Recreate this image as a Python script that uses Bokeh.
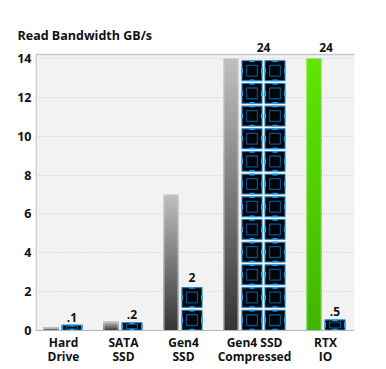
import numpy as np
from bokeh.plotting import figure
from bokeh.models import ColumnDataSource, FixedTicker, LabelSet, Range1d
from bokeh.core.properties import value
from bokeh.embed import file_html
from bokeh.resources import INLINE

# ---------------- data ----------------
categories = ["Hard\nDrive", "SATA\nSSD", "Gen4\nSSD", "Gen4 SSD\nCompressed", "RTX\nIO"]
bar_values = [0.15, 0.45, 7.0, 14.0, 14.0]      # left bars (drawn height, clipped at 14)
bar_styles = ["gray", "gray", "gray", "gray", "green"]
chip_values = [0.30, 0.42, 2.34, 14.0, 0.57]    # chip stacks (drawn height)
chip_columns = [1, 1, 1, 2, 1]
chip_labels = [".1", ".2", "2", "24", ".5"]
bar_labels = ["", "", "", "", "24"]
y_ticks = [0, 2, 4, 6, 8, 10, 12, 14]
title_text = "Read Bandwidth GB/s"

# ---------------- layout constants ----------------
X_END = 319.0
Y_END = 14.2          # top of the shaded plot area
PX_PER_UNIT = 276.0 / Y_END
FRAME_H = 288
Y_TOP = FRAME_H / PX_PER_UNIT   # room above the shaded area for the value labels
PAD = 8.0
BAR_W = 15.0
CHIP_OFF = 18.0
CHIP_W = 21.0
CHIP_STEP = 23.0
GROUP_GAP = 21.0
ROW_PITCH = 14.0 / 12.0
ROW_GAP = 0.1
FONT = "Open Sans"

p = figure(frame_width=319, frame_height=FRAME_H, output_backend="svg", toolbar_location=None,
           x_range=Range1d(0, X_END), y_range=Range1d(0, Y_TOP),
           min_border_left=35, min_border_right=16, min_border_top=42, min_border_bottom=38)
p.background_fill_color = "white"
p.border_fill_color = "white"
p.outline_line_color = None

# shaded plot area
p.quad(left=[0], right=[X_END], bottom=[0], top=[Y_END], fill_color="#f2f2f2",
       line_color=None, level="image")
p.segment(x0=[0], x1=[X_END], y0=[Y_END], y1=[Y_END], line_color="#c8c8c8", line_width=1.3)
p.segment(x0=[0.6], x1=[0.6], y0=[0], y1=[Y_END], line_color="#c4c4c4", line_width=1.3)

def lerp(c1, c2, t):
    return "#%02x%02x%02x" % tuple(int(round(a + (b - a) * t)) for a, b in zip(c1, c2))

grad = {"gray": ((52, 52, 52), (192, 192, 192)), "green": ((66, 180, 0), (94, 230, 0))}

# positions computed from the group layout
bar_x0, chip_x0, centers = [], [], []
x = PAD
for n in chip_columns:
    bar_x0.append(x)
    chip_x0.append(x + CHIP_OFF)
    end = x + CHIP_OFF + n * CHIP_STEP - (CHIP_STEP - CHIP_W)
    centers.append((x + end) / 2)
    x = end + GROUP_GAP

# gradient left bars
N = 40
ql, qr, qb, qt, qc = [], [], [], [], []
for x0, h, st in zip(bar_x0, bar_values, bar_styles):
    lo, hi = grad[st]
    for k in range(N):
        ql.append(x0); qr.append(x0 + BAR_W)
        qb.append(h * k / N); qt.append(min(h, h * (k + 1) / N + 0.04))
        qc.append(lerp(lo, hi, (k + 0.5) / N))
p.quad(left=ql, right=qr, bottom=qb, top=qt, fill_color=qc, line_color=None)
p.quad(left=[x0 + 0.5 for x0 in bar_x0], right=[x0 + BAR_W - 0.5 for x0 in bar_x0],
       bottom=0, top=[v - 0.02 for v in bar_values], fill_color=None,
       line_color=["#d0d0d0" if s == "gray" else "#8fe060" for s in bar_styles],
       line_width=1, line_alpha=0.8)

# chip stacks
ol, orr, ob, ot = [], [], [], []
for x0, h, n in zip(chip_x0, chip_values, chip_columns):
    rows = int(round(h / ROW_PITCH)) if h >= ROW_PITCH else 0
    for c in range(n):
        cx = x0 + c * CHIP_STEP
        if rows == 0:
            ol.append(cx); orr.append(cx + CHIP_W); ob.append(0.0); ot.append(h)
        else:
            for r in range(rows):
                ol.append(cx); orr.append(cx + CHIP_W)
                ob.append(r * ROW_PITCH); ot.append((r + 1) * ROW_PITCH - ROW_GAP)
ol, orr, ob, ot = map(np.array, (ol, orr, ob, ot))
p.quad(left=ol + 0.5, right=orr - 0.5, bottom=ob + 0.025, top=ot - 0.025,
       fill_color="#010409", line_color="#1683c8", line_width=1.1)
cw = orr - ol
ch = ot - ob
p.quad(left=ol + cw * 0.24, right=orr - cw * 0.24, bottom=ob + ch * 0.24, top=ot - ch * 0.24,
       fill_color=None, line_color="#0a4f86", line_width=1.3)
mx = (ol + orr) / 2
my = (ob + ot) / 2
tick_kw = dict(line_color="#1fa3f5", line_width=1.8)
p.segment(x0=mx - 2.5, x1=mx + 2.5, y0=ot - 0.04, y1=ot - 0.04, **tick_kw)
p.segment(x0=mx - 2.5, x1=mx + 2.5, y0=ob + 0.04, y1=ob + 0.04, **tick_kw)
p.segment(x0=ol + 0.6, x1=ol + 0.6, y0=np.maximum(my - 0.13, ob), y1=np.minimum(my + 0.13, ot), **tick_kw)
p.segment(x0=orr - 0.6, x1=orr - 0.6, y0=np.maximum(my - 0.13, ob), y1=np.minimum(my + 0.13, ot), **tick_kw)

# value labels
chip_mid = [x0 + (n * CHIP_STEP - (CHIP_STEP - CHIP_W)) / 2 for x0, n in zip(chip_x0, chip_columns)]
label_y = lambda h: h if h < 14.0 else Y_END
lab_kw = dict(text_align="center", text_baseline="bottom", y_offset=3,
              text_font=value(FONT), text_font_style=value("bold"),
              text_font_size=value("12px"), text_color=value("#111111"))
lab_src = ColumnDataSource(dict(x=chip_mid, y=[label_y(h) for h in chip_values], t=chip_labels))
p.add_layout(LabelSet(x="x", y="y", text="t", source=lab_src, **lab_kw))
blab_src = ColumnDataSource(dict(x=centers, y=[label_y(v) for v in bar_values], t=bar_labels))
p.add_layout(LabelSet(x="x", y="y", text="t", source=blab_src, **lab_kw))

# axes
p.yaxis.ticker = FixedTicker(ticks=y_ticks)
p.yaxis.major_tick_line_color = None
p.yaxis.minor_tick_line_color = None
p.yaxis.major_tick_out = 0
p.yaxis.major_tick_in = 0
p.yaxis.axis_line_color = None
p.yaxis.major_label_standoff = 4
p.yaxis.major_label_text_font = FONT
p.yaxis.major_label_text_font_style = "bold"
p.yaxis.major_label_text_font_size = "12.5px"
p.yaxis.major_label_text_color = "#111111"

tick_pos = [int(round(c)) for c in centers]
p.xaxis.ticker = FixedTicker(ticks=tick_pos)
p.xaxis.major_label_overrides = {t: c for t, c in zip(tick_pos, categories)}
p.xaxis.major_tick_line_color = None
p.xaxis.minor_tick_line_color = None
p.xaxis.major_tick_out = 0
p.xaxis.major_tick_in = 0
p.xaxis.axis_line_color = "#b4b4b4"
p.xaxis.major_label_standoff = 3
p.xaxis.major_label_text_font = FONT
p.xaxis.major_label_text_font_style = "bold"
p.xaxis.major_label_text_font_size = "12px"
p.xaxis.major_label_text_color = "#111111"
p.xaxis.major_label_text_line_height = 0.88

p.xgrid.grid_line_color = None
p.ygrid.ticker = FixedTicker(ticks=y_ticks[1:])
p.ygrid.grid_line_color = "#cdcdcd"
p.ygrid.grid_line_dash = "1 2"
p.ygrid.grid_line_width = 1
p.ygrid.level = "underlay"

p.title.text = title_text
p.title.align = "left"
p.title.offset = -18
p.title.standoff = -2
p.title.text_font = FONT
p.title.text_font_style = "bold"
p.title.text_font_size = "12.5px"
p.title.text_color = "#111111"

open("out.html", "w").write(file_html(p, INLINE))
